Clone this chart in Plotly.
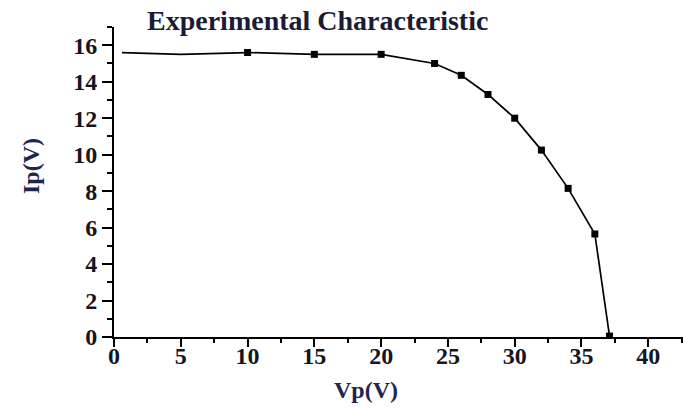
import plotly.graph_objects as go

# Data
vp = [0.6, 5, 10, 15, 20, 24, 26, 28, 30, 32, 34, 36, 37.1]
ip = [15.6, 15.5, 15.6, 15.5, 15.5, 15.0, 14.35, 13.3, 12.0, 10.25, 8.15, 5.65, 0.05]
first_marked = 2  # markers visible from V=10 onward

x_ticks = [0, 5, 10, 15, 20, 25, 30, 35, 40]
y_ticks = [0, 2, 4, 6, 8, 10, 12, 14, 16]

SERIF = "Liberation Serif, Times New Roman, serif"

fig = go.Figure()
fig.add_trace(go.Scatter(
    x=vp, y=ip, mode="lines",
    line=dict(color="black", width=1.7),
    hoverinfo="skip", showlegend=False,
))
fig.add_trace(go.Scatter(
    x=vp[first_marked:], y=ip[first_marked:], mode="markers",
    marker=dict(symbol="square", size=7, color="black"),
    showlegend=False,
))

axis_common = dict(
    showgrid=False, zeroline=False, showline=True, linecolor="black", linewidth=2,
    ticks="outside", tickcolor="black", tickwidth=2,
    tickfont=dict(family=SERIF, size=24, color="#15151f", weight="bold"),
)

fig.update_xaxes(
    range=[0, 42.6], tickvals=x_ticks, ticklen=8, ticklabelstandoff=-12,
    minor=dict(dtick=2.5, tick0=0, ticks="outside", ticklen=4, tickwidth=2, tickcolor="black"),
    **axis_common,
)
fig.update_yaxes(
    range=[0, 17], tickvals=y_ticks, ticklen=10,
    minor=dict(dtick=1, tick0=0, ticks="outside", ticklen=5, tickwidth=2, tickcolor="black"),
    **axis_common,
)

fig.update_layout(
    width=683, height=410,
    margin=dict(l=114, r=0, t=27, b=73),
    paper_bgcolor="white", plot_bgcolor="white",
    annotations=[
        dict(text="Experimental Characteristic", xref="paper", yref="paper",
             x=(145 - 114) / 569, y=1 + (27 - 3) / 310, xanchor="left", yanchor="top",
             showarrow=False,
             font=dict(family=SERIF, size=28, color="#1b1b35", weight="bold")),
        dict(text="Vp(V)", xref="paper", yref="paper",
             x=(366 - 114) / 569, y=-(405 - 337) / 310, xanchor="center", yanchor="bottom",
             showarrow=False,
             font=dict(family=SERIF, size=24, color="#1e2650", weight="bold")),
        dict(text="Ip(V)", xref="paper", yref="paper", textangle=-90,
             x=-(114 - 16) / 569, y=(337 - 166) / 310, xanchor="left", yanchor="middle",
             showarrow=False,
             font=dict(family=SERIF, size=24, color="#1e2650", weight="bold")),
    ],
)

fig.write_html("out.html")
